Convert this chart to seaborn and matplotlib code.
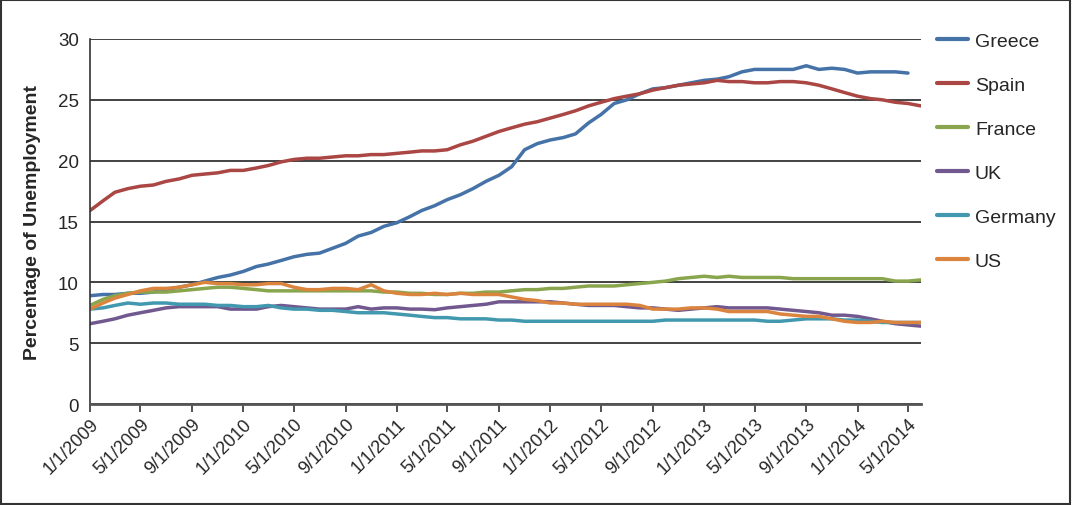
import numpy as np
import pandas as pd
import matplotlib
matplotlib.use("Agg")
import matplotlib.pyplot as plt
import matplotlib.dates as mdates
from matplotlib.patches import Rectangle
import seaborn as sns

# ---- data (monthly, Jan 2009 - Jun 2014) ----
dates = pd.date_range("2009-01-01", "2014-06-01", freq="MS")

greece = [8.9, 9.0, 9.0, 9.1, 9.1, 9.2, 9.4, 9.6, 9.8, 10.1, 10.4, 10.6,
          10.9, 11.3, 11.5, 11.8, 12.1, 12.3, 12.4, 12.8, 13.2, 13.8, 14.1, 14.6,
          14.9, 15.4, 15.9, 16.3, 16.8, 17.2, 17.7, 18.3, 18.8, 19.5, 20.9, 21.4,
          21.7, 21.9, 22.2, 23.1, 23.8, 24.7, 25.0, 25.5, 25.9, 26.0, 26.2, 26.4,
          26.6, 26.7, 26.9, 27.3, 27.5, 27.5, 27.5, 27.5, 27.8, 27.5, 27.6, 27.5,
          27.2, 27.3, 27.3, 27.3, 27.2, np.nan]
spain = [15.9, 16.7, 17.4, 17.7, 17.9, 18.0, 18.3, 18.5, 18.8, 18.9, 19.0, 19.2,
         19.2, 19.4, 19.6, 19.9, 20.1, 20.2, 20.2, 20.3, 20.4, 20.4, 20.5, 20.5,
         20.6, 20.7, 20.8, 20.8, 20.9, 21.3, 21.6, 22.0, 22.4, 22.7, 23.0, 23.2,
         23.5, 23.8, 24.1, 24.5, 24.8, 25.1, 25.3, 25.5, 25.8, 26.0, 26.2, 26.3,
         26.4, 26.6, 26.5, 26.5, 26.4, 26.4, 26.5, 26.5, 26.4, 26.2, 25.9, 25.6,
         25.3, 25.1, 25.0, 24.8, 24.7, 24.5]
france = [8.1, 8.6, 8.9, 9.1, 9.2, 9.2, 9.2, 9.3, 9.4, 9.5, 9.6, 9.6,
          9.5, 9.4, 9.3, 9.3, 9.3, 9.3, 9.3, 9.3, 9.3, 9.3, 9.3, 9.2,
          9.2, 9.1, 9.1, 9.0, 9.0, 9.1, 9.1, 9.2, 9.2, 9.3, 9.4, 9.4,
          9.5, 9.5, 9.6, 9.7, 9.7, 9.7, 9.8, 9.9, 10.0, 10.1, 10.3, 10.4,
          10.5, 10.4, 10.5, 10.4, 10.4, 10.4, 10.4, 10.3, 10.3, 10.3, 10.3, 10.3,
          10.3, 10.3, 10.3, 10.1, 10.1, 10.2]
uk = [6.6, 6.8, 7.0, 7.3, 7.5, 7.7, 7.9, 8.0, 8.0, 8.0, 8.0, 7.8,
      7.8, 7.8, 8.0, 8.1, 8.0, 7.9, 7.8, 7.8, 7.8, 8.0, 7.8, 7.9,
      7.9, 7.8, 7.8, 7.75, 7.9, 8.0, 8.1, 8.2, 8.4, 8.4, 8.4, 8.4,
      8.4, 8.3, 8.2, 8.1, 8.1, 8.1, 8.0, 7.9, 7.9, 7.8, 7.7, 7.8,
      7.9, 8.0, 7.9, 7.9, 7.9, 7.9, 7.8, 7.7, 7.6, 7.5, 7.3, 7.3,
      7.2, 7.0, 6.8, 6.6, 6.5, 6.4]
germany = [7.8, 7.9, 8.1, 8.3, 8.2, 8.3, 8.3, 8.2, 8.2, 8.2, 8.1, 8.1,
           8.0, 8.0, 8.1, 7.9, 7.8, 7.8, 7.7, 7.7, 7.6, 7.5, 7.5, 7.5,
           7.4, 7.3, 7.2, 7.1, 7.1, 7.0, 7.0, 7.0, 6.9, 6.9, 6.8, 6.8,
           6.8, 6.8, 6.8, 6.8, 6.8, 6.8, 6.8, 6.8, 6.8, 6.9, 6.9, 6.9,
           6.9, 6.9, 6.9, 6.9, 6.9, 6.8, 6.8, 6.9, 7.0, 7.0, 7.0, 6.9,
           6.9, 6.8, 6.7, 6.7, 6.7, 6.7]
us = [7.8, 8.3, 8.7, 9.0, 9.3, 9.5, 9.5, 9.6, 9.8, 10.0, 9.9, 9.9,
      9.8, 9.8, 9.9, 9.9, 9.6, 9.4, 9.4, 9.5, 9.5, 9.4, 9.8, 9.3,
      9.1, 9.0, 9.0, 9.1, 9.0, 9.1, 9.0, 9.0, 9.0, 8.8, 8.6, 8.5,
      8.3, 8.3, 8.2, 8.2, 8.2, 8.2, 8.2, 8.1, 7.8, 7.8, 7.8, 7.9,
      7.9, 7.8, 7.6, 7.6, 7.6, 7.6, 7.4, 7.3, 7.2, 7.2, 7.0, 6.8,
      6.7, 6.7, 6.8, 6.7, 6.7, 6.7]

countries = ["Greece", "Spain", "France", "UK", "Germany", "US"]
colors = ["#4572A7", "#AA4643", "#89A54E", "#71588F", "#4198AF", "#DB843D"]
y_ticks = [0, 5, 10, 15, 20, 25, 30]
y_label = "Percentage of Unemployment"

series = dict(zip(countries, [greece, spain, france, uk, germany, us]))
df = pd.concat(
    [pd.DataFrame({"date": dates, "value": v, "country": c}) for c, v in series.items()],
    ignore_index=True,
)

sns.set_theme(style="white")
plt.rcParams["font.family"] = ["Liberation Sans", "DejaVu Sans"]

fig = plt.figure(figsize=(10.72, 5.06), dpi=100)
ax = fig.add_axes([90 / 1072, 1 - 405 / 506, (921 - 90) / 1072, (405 - 40) / 506])

sns.lineplot(data=df, x="date", y="value", hue="country", hue_order=countries,
             palette=dict(zip(countries, colors)), linewidth=2.5, ax=ax, legend=False)

ax.set_ylim(0, 30)
ax.set_yticks(y_ticks)
ax.set_xlim(dates[0], dates[-1])
ax.grid(axis="y", color="#222222", linewidth=1.2)
ax.set_axisbelow(True)
for s in ["top", "right"]:
    ax.spines[s].set_visible(False)
ax.spines["left"].set_color("#333333")
ax.spines["bottom"].set_color("#555555")
ax.spines["left"].set_linewidth(1.2)
ax.spines["bottom"].set_linewidth(2.0)

ax.xaxis.set_major_locator(mdates.MonthLocator(bymonth=[1, 5, 9]))
ax.xaxis.set_major_formatter(
    matplotlib.ticker.FuncFormatter(lambda v, p: (lambda d: f"{d.month}/{d.day}/{d.year}")(mdates.num2date(v)))
)
ax.tick_params(axis="x", bottom=True, length=6, width=1.2, color="#333333", labelsize=13, pad=2)
ax.tick_params(axis="y", left=False, length=0, labelsize=13.5, pad=8)
for lbl in ax.get_xticklabels():
    lbl.set_rotation(45)
    lbl.set_ha("right")
    lbl.set_rotation_mode("anchor")

ax.set_xlabel("")
ax.set_ylabel(y_label, fontsize=14, fontweight="bold", labelpad=12)

handles = [matplotlib.lines.Line2D([], [], color=c, linewidth=3) for c in colors]
fig.legend(handles, countries, loc="upper left", bbox_to_anchor=(937 / 1072, 1 - 33 / 506),
           frameon=False, fontsize=14, handlelength=1.6, handletextpad=0.35,
           labelspacing=1.36, borderpad=0, borderaxespad=0)

fig.patches.append(Rectangle((0.001, 0.002), 0.997, 0.996, transform=fig.transFigure,
                             fill=False, edgecolor="#333333", linewidth=1.5))

fig.savefig("out.png", dpi=100)
